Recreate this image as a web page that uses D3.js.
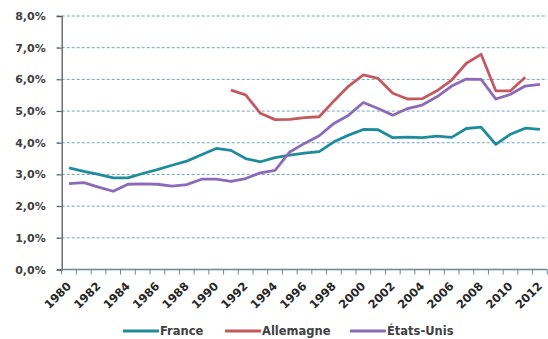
<!DOCTYPE html>
<html>
<head>
<meta charset="utf-8">
<script src="https://cdn.jsdelivr.net/npm/d3@7"></script>
<style>
  html, body { margin: 0; padding: 0; background: #fff; }
  svg { display: block; }
  text { font-family: "DejaVu Sans", Verdana, sans-serif; font-weight: bold; }
</style>
</head>
<body>
<svg id="chart" width="548" height="339"></svg>
<script>
const years = d3.range(1980, 2013);
const yTicks = [0, 1, 2, 3, 4, 5, 6, 7, 8];
const seriesNames = ["France", "Allemagne", "États-Unis"];
const seriesColors = ["#1f8c9c", "#c45a60", "#8b6bb8"];

const france = [3.21, 3.10, 3.00, 2.89, 2.89, 3.03, 3.15, 3.29, 3.42, 3.62, 3.82, 3.76, 3.50, 3.40, 3.53, 3.61, 3.67, 3.72, 4.03, 4.24, 4.42, 4.41, 4.16, 4.18, 4.16, 4.21, 4.17, 4.45, 4.49, 3.95, 4.27, 4.46, 4.42];
const allemagne = [null, null, null, null, null, null, null, null, null, null, null, 5.66, 5.51, 4.93, 4.73, 4.74, 4.79, 4.82, 5.32, 5.79, 6.14, 6.03, 5.56, 5.38, 5.39, 5.64, 5.98, 6.51, 6.79, 5.64, 5.64, 6.07, null];
const etatsUnis = [2.71, 2.74, 2.60, 2.47, 2.69, 2.70, 2.69, 2.63, 2.68, 2.85, 2.85, 2.78, 2.87, 3.05, 3.13, 3.71, 3.98, 4.22, 4.61, 4.87, 5.27, 5.08, 4.87, 5.08, 5.19, 5.45, 5.79, 6.01, 6.00, 5.38, 5.53, 5.79, 5.84];
const seriesValues = [france, allemagne, etatsUnis];

const svg = d3.select("#chart");
const mLeft = 61.7, mRight = 547.3, mTop = 16, mBottom = 269.5;

const x = d3.scaleBand().domain(years).range([mLeft, mRight]);
const y = d3.scaleLinear().domain([0, 8]).range([mBottom, mTop]);

// gridlines
svg.append("g").selectAll("line").data(yTicks.filter(d => d > 0)).join("line")
  .attr("x1", mLeft - 5).attr("x2", mRight)
  .attr("y1", d => y(d)).attr("y2", d => y(d))
  .attr("stroke", "#6fa3c2").attr("stroke-width", 1)
  .attr("stroke-dasharray", "3,2");

// y axis
const yAxis = d3.axisLeft(y).tickValues(yTicks).tickSize(5)
  .tickFormat(d => d.toFixed(1).replace(".", ",") + "%");
const gy = svg.append("g").attr("transform", `translate(${mLeft},0)`).call(yAxis);
gy.select(".domain").attr("stroke", "#595959").attr("stroke-width", 1.3);
gy.selectAll(".tick line").attr("stroke", "#595959");
gy.selectAll(".tick text").attr("x", -16).attr("fill", "#404040")
  .style("font-size", "11px").style("font-family", "'DejaVu Sans', sans-serif").style("font-weight", "bold");

// x axis
const gx = svg.append("g").attr("transform", `translate(0,${mBottom})`);
gx.append("line").attr("x1", mLeft).attr("x2", mRight).attr("y1", 0).attr("y2", 0)
  .attr("stroke", "#6d8797").attr("stroke-width", 1.3);
gx.selectAll("line.tk").data(years.concat([2013])).join("line").attr("class", "tk")
  .attr("x1", (d, i) => mLeft + i * x.step()).attr("x2", (d, i) => mLeft + i * x.step())
  .attr("y1", 0).attr("y2", 5)
  .attr("stroke", "#6d8797").attr("stroke-width", 1);
gx.selectAll("text").data(years.filter(d => d % 2 === 0)).join("text")
  .attr("transform", d => `translate(${x(d) + x.bandwidth() / 2},${14.5}) rotate(-45)`)
  .attr("text-anchor", "end").attr("dy", "0.35em")
  .attr("fill", "#262626").style("font-size", "11.5px")
  .text(d => d);

// lines
const line = d3.line()
  .defined(d => d.v != null)
  .x(d => x(d.year) + x.bandwidth() / 2)
  .y(d => y(d.v));

seriesValues.forEach((vals, i) => {
  svg.append("path")
    .datum(years.map((yr, j) => ({ year: yr, v: vals[j] })))
    .attr("d", line)
    .attr("fill", "none")
    .attr("stroke", seriesColors[i])
    .attr("stroke-width", 2.8)
    .attr("stroke-linejoin", "round");
});

// legend
const legendX = [123, 225, 350];
const lg = svg.append("g");
seriesNames.forEach((name, i) => {
  lg.append("line").attr("x1", legendX[i]).attr("x2", legendX[i] + 36)
    .attr("y1", 331).attr("y2", 331)
    .attr("stroke", seriesColors[i]).attr("stroke-width", 3);
  lg.append("text").attr("x", legendX[i] + 37).attr("y", 331).attr("dy", "0.36em")
    .attr("fill", "#404040").style("font-size", "11.5px").text(name);
});
</script>
</body>
</html>
